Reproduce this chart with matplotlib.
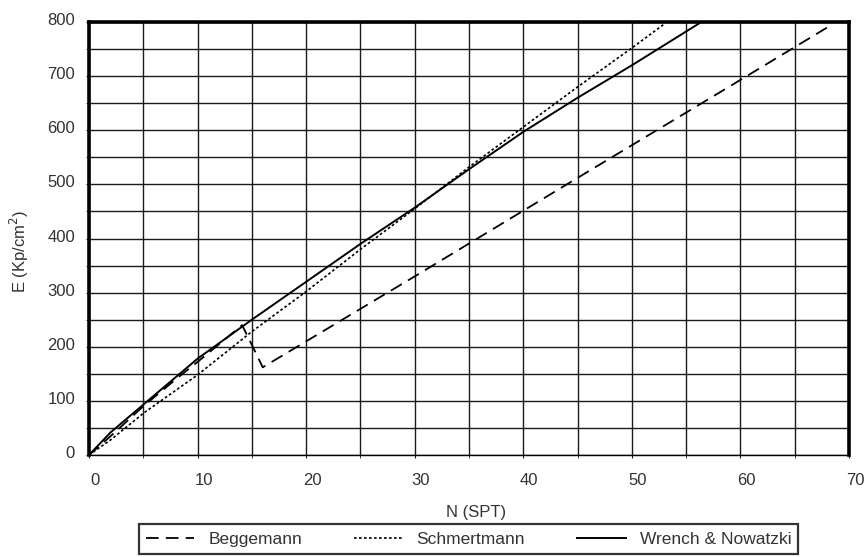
import matplotlib.pyplot as plt
import matplotlib.transforms as mtransforms
from matplotlib.ticker import MultipleLocator

plt.rcParams['font.family'] = ['Liberation Sans', 'DejaVu Sans']

# Beggemann (gestrichelt)
n_begg = [0, 2, 5, 8, 10, 12, 14.1, 15.5, 16, 30, 45, 60, 68]
e_begg = [0, 35, 90, 140, 172, 205, 240, 183, 162, 330, 512, 693, 790]

# Schmertmann (gepunktet)
n_schm = [0, 2, 5, 10, 15, 20, 25, 30, 35, 40, 45, 50, 52.9]
e_schm = [0, 28, 77, 148, 228, 302, 380, 455, 532, 606, 680, 752, 795]

# Wrench & Nowatzki (durchgezogen)
n_wren = [0, 2, 5, 10, 15, 20, 25, 30, 35, 40, 45, 50, 56.4]
e_wren = [0, 42, 93, 178, 250, 320, 390, 457, 528, 597, 660, 720, 800]

fig = plt.figure(figsize=(8.65, 5.57), dpi=100)
ax = fig.add_axes([89/865, 1 - 455/557, 760/865, 433/557])

ax.plot(n_begg, e_begg, color='black', lw=1.3, linestyle=(0, (7, 4)), label='Beggemann')
ax.plot(n_schm, e_schm, color='black', lw=1.2, linestyle=(0, (1.6, 1.4)), label='Schmertmann')
ax.plot(n_wren, e_wren, color='black', lw=1.4, label='Wrench & Nowatzki')

ax.set_xlim(0, 70)
ax.set_ylim(0, 800)
ax.xaxis.set_major_locator(MultipleLocator(10))
ax.xaxis.set_minor_locator(MultipleLocator(5))
ax.yaxis.set_major_locator(MultipleLocator(100))
ax.yaxis.set_minor_locator(MultipleLocator(50))
ax.grid(which='both', color='#1a1a1a', lw=1.0)
ax.set_axisbelow(True)

for side in ['left', 'top', 'right']:
    ax.spines[side].set_linewidth(2.6)
ax.spines['bottom'].set_linewidth(1.0)

ax.tick_params(which='both', direction='out', length=2, color='#1a1a1a')
ax.tick_params(axis='x', pad=11, labelsize=12, labelcolor='#333333')
ax.tick_params(axis='y', pad=8, labelsize=12, labelcolor='#333333')

# Beschriftungen leicht versetzt wie im Original
dx = mtransforms.ScaledTranslation(6/100, 0, fig.dpi_scale_trans)
for lab in ax.get_xticklabels():
    lab.set_transform(lab.get_transform() + dx)
dy = mtransforms.ScaledTranslation(0, 3/100, fig.dpi_scale_trans)
for lab in ax.get_yticklabels():
    lab.set_transform(lab.get_transform() + dy)

ax.set_xlabel('N (SPT)', fontsize=12, color='#333333')
ax.set_ylabel('E (Kp/cm$^2$)', fontsize=12, color='#333333')
ax.xaxis.set_label_coords(0.509, -0.115)
ax.yaxis.set_label_coords(-0.076, 0.469)

leg = fig.legend(loc='center', bbox_to_anchor=(468.5/865, 1 - 539/557), ncol=3,
                 fontsize=12.5, frameon=True, fancybox=False, edgecolor='black',
                 handlelength=2.8, columnspacing=3.0, borderpad=0.4)
leg.get_frame().set_linewidth(1.6)
for t in leg.get_texts():
    t.set_color('#333333')

fig.savefig('out.png', dpi=100)
